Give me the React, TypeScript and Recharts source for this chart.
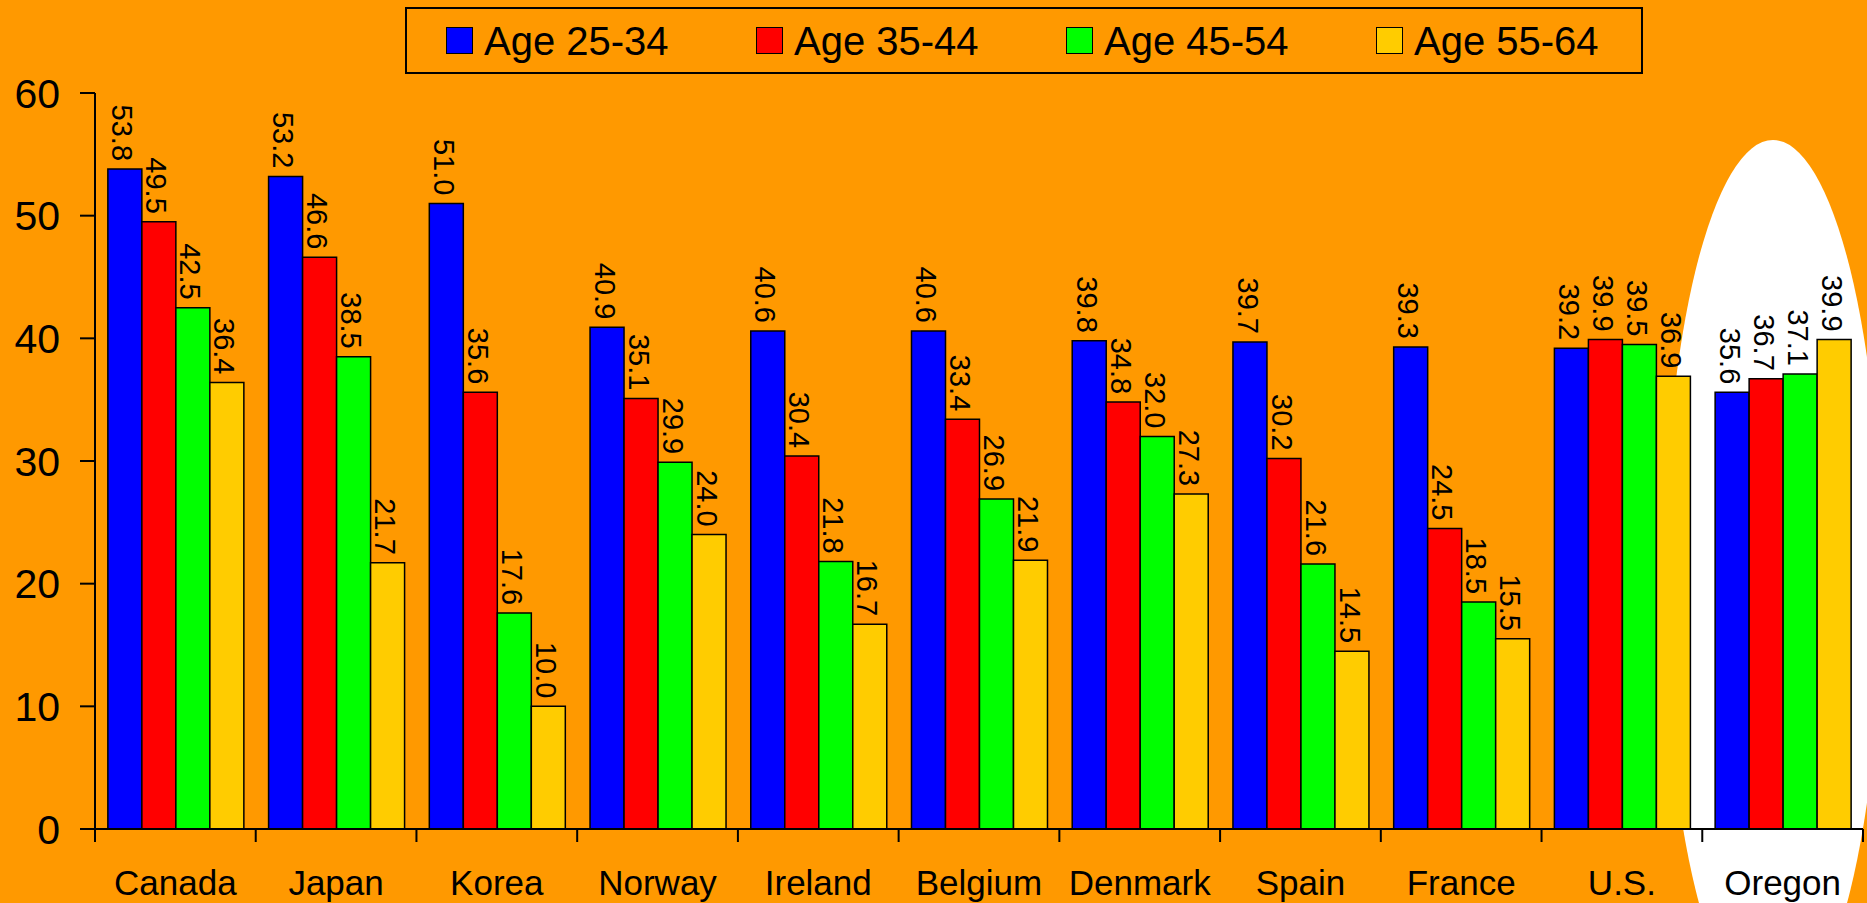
import React from 'react';
import { BarChart, Bar, XAxis, YAxis, Legend, LabelList } from 'recharts';

// ---- data ----
const countries = ['Canada', 'Japan', 'Korea', 'Norway', 'Ireland', 'Belgium', 'Denmark', 'Spain', 'France', 'U.S.', 'Oregon'];
const age2534 = [53.8, 53.2, 51.0, 40.9, 40.6, 40.6, 39.8, 39.7, 39.3, 39.2, 35.6];
const age3544 = [49.5, 46.6, 35.6, 35.1, 30.4, 33.4, 34.8, 30.2, 24.5, 39.9, 36.7];
const age4554 = [42.5, 38.5, 17.6, 29.9, 21.8, 26.9, 32.0, 21.6, 18.5, 39.5, 37.1];
const age5564 = [36.4, 21.7, 10.0, 24.0, 16.7, 21.9, 27.3, 14.5, 15.5, 36.9, 39.9];
const yTicks = [0, 10, 20, 30, 40, 50, 60];

const seriesNames = ['Age 25-34', 'Age 35-44', 'Age 45-54', 'Age 55-64'];
const seriesColors = ['#0000ff', '#ff0000', '#00ff00', '#ffcc00'];
const seriesKeys = ['a2534', 'a3544', 'a4554', 'a5564'];

const data = countries.map((country, i) => ({
  country,
  a2534: age2534[i],
  a3544: age3544[i],
  a4554: age4554[i],
  a5564: age5564[i],
}));

// ---- layout ----
const W = 1867;
const H = 903;
const PLOT_LEFT = 95;
const PLOT_RIGHT = 4;
const PLOT_TOP = 93;
const X_AXIS_H = 74;
const BAND = (W - PLOT_LEFT - PLOT_RIGHT) / countries.length;
const FONT = '"Liberation Sans", Arial, sans-serif';

const CountryTick = (props: any) => {
  const { x, y, payload } = props;
  const idx = countries.indexOf(payload.value);
  const left = x - BAND / 2;
  return (
    <g>
      <line x1={left} x2={left} y1={y} y2={y + 13} stroke="#000" strokeWidth={2} />
      {idx === countries.length - 1 && (
        <line x1={x + BAND / 2} x2={x + BAND / 2} y1={y} y2={y + 13} stroke="#000" strokeWidth={2} />
      )}
      <text x={x} y={y + 66} textAnchor="middle" fontSize={35} fontFamily={FONT} fill="#000">
        {payload.value}
      </text>
    </g>
  );
};

const ValueLabel = (props: any) => {
  const { x, y, width, value } = props;
  const cx = Number(x) + Number(width) / 2 - 2;
  const ty = Number(y) - 8;
  return (
    <text
      x={cx}
      y={ty}
      transform={`rotate(90 ${cx} ${ty})`}
      textAnchor="end"
      dy="0.36em"
      fontSize={29}
      fontFamily={FONT}
      fill="#000"
    >
      {Number(value).toFixed(1)}
    </text>
  );
};

const LegendBox = (props: any) => {
  const { payload } = props;
  return (
    <div
      style={{
        boxSizing: 'border-box',
        width: 1238,
        height: 67,
        border: '2px solid #000',
        position: 'relative',
        fontFamily: FONT,
      }}
    >
      {(payload || []).map((item: any, i: number) => (
        <div
          key={item.value}
          style={{
            position: 'absolute',
            left: 39 + i * 310,
            top: 0,
            height: 63,
            display: 'flex',
            alignItems: 'center',
            whiteSpace: 'nowrap',
          }}
        >
          <span
            style={{
              display: 'inline-block',
              boxSizing: 'border-box',
              width: 27,
              height: 27,
              background: item.color,
              border: '1.5px solid #000',
              marginRight: 11,
            }}
          />
          <span style={{ fontSize: 40, color: '#000', lineHeight: 1 }}>{item.value}</span>
        </div>
      ))}
    </div>
  );
};

export default function App() {
  return (
    <div
      style={{
        position: 'fixed',
        left: 0,
        top: 0,
        width: W,
        height: H,
        background: '#ff9900',
        overflow: 'hidden',
      }}
    >
      {/* white highlight behind Oregon */}
      <svg width={W} height={H} style={{ position: 'absolute', left: 0, top: 0 }}>
        <ellipse cx={1773} cy={580} rx={109} ry={440} fill="#ffffff" />
      </svg>

      <div style={{ position: 'absolute', left: 0, top: 0 }}>
        <BarChart
          width={W}
          height={H}
          data={data}
          margin={{ top: PLOT_TOP, right: PLOT_RIGHT, bottom: 0, left: 0 }}
          barCategoryGap="8%"
          barGap={0}
        >
          <XAxis
            dataKey="country"
            height={X_AXIS_H}
            axisLine={{ stroke: '#000', strokeWidth: 2 }}
            tickLine={false}
            tickSize={0}
            tickMargin={0}
            interval={0}
            tick={<CountryTick />}
          />
          <YAxis
            width={PLOT_LEFT}
            domain={[0, 60]}
            ticks={yTicks}
            interval={0}
            axisLine={{ stroke: '#000', strokeWidth: 2 }}
            tickLine={{ stroke: '#000', strokeWidth: 2 }}
            tickSize={15}
            tickMargin={20}
            tick={{ fill: '#000', fontSize: 41, fontFamily: FONT }}
          />
          <Legend
            verticalAlign="middle"
            align="center"
            content={<LegendBox />}
            wrapperStyle={{ top: 7, left: 405, width: 1238, height: 67 }}
          />
          {seriesKeys.map((key, i) => (
            <Bar
              key={key}
              dataKey={key}
              name={seriesNames[i]}
              fill={seriesColors[i]}
              stroke="#000"
              strokeWidth={1.5}
              isAnimationActive={false}
            >
              <LabelList dataKey={key} content={<ValueLabel />} />
            </Bar>
          ))}
        </BarChart>
      </div>
    </div>
  );
}
